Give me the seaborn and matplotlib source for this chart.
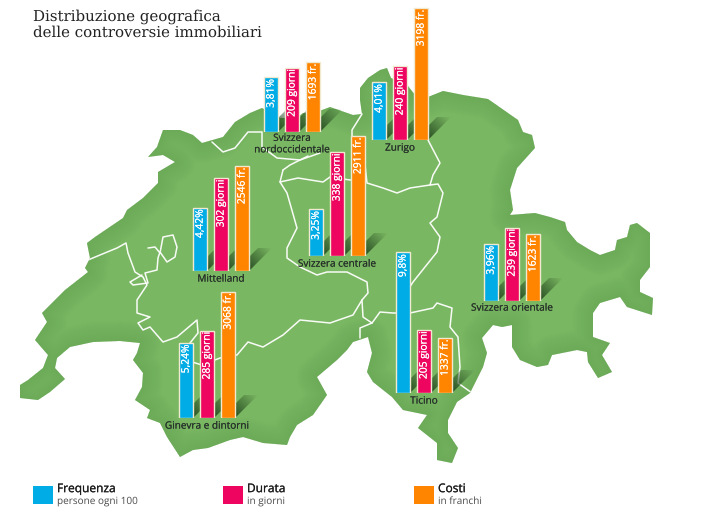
import numpy as np
import pandas as pd
import seaborn as sns
import matplotlib
matplotlib.use('Agg')
import matplotlib.pyplot as plt
import matplotlib.patheffects as pe
from matplotlib.patches import Polygon, Rectangle

regions = ['Svizzera\nnordoccidentale', 'Zurigo', 'Mittelland', 'Svizzera centrale',
           'Ginevra e dintorni', 'Ticino', 'Svizzera orientale']
frequenza = [3.81, 4.01, 4.42, 3.25, 5.24, 9.8, 3.96]
durata = [209, 240, 302, 338, 285, 205, 239]
costi = [1693, 3198, 2546, 2911, 3068, 1337, 1623]
metrics = ['Frequenza', 'Durata', 'Costi']
metric_notes = ['persone ogni 100', 'in giorni', 'in franchi']

# layout, all in reference pixels
W, H = 710, 519
bar_left = [264, 372, 193, 309, 179, 396, 484]
bar_base = [132, 140, 271, 256, 418, 393, 301]
name_y = [144, 148, 279, 264, 426, 401, 308]
scale = [14.35, 0.307, 0.0412]
colors = ['#00ace6', '#ee0560', '#ff8400']
legend_x = [33, 223, 414]

outline = [(20,385),(28,380),(43,368),(48,355),(35,340),(47,322),(42,313),(65,290),(88,272),(85,268),
           (90,258),(87,243),(95,237),(123,218),(127,210),(143,198),(158,183),(158,172),(175,162),(163,155),
           (148,157),(157,147),(163,130),(180,130),(193,135),(202,143),(223,137),(235,122),(250,113),(262,108),
           (280,118),(297,118),(303,113),(317,112),(330,107),(353,115),(362,114),(360,100),(360,88),(368,78),
           (380,70),(387,68),(391,78),(400,82),(408,86),(415,95),(428,97),(443,91),(463,95),(488,99),
           (518,120),(523,132),(532,135),(535,148),(517,168),(510,190),(513,210),(510,215),(535,213),(550,217),
           (565,222),(567,230),(577,242),(590,250),(600,255),(615,250),(617,240),(627,237),(630,225),(637,223),
           (650,233),(650,267),(640,280),(640,292),(653,298),(652,315),(627,307),(620,297),(600,303),(593,313),
           (593,337),(610,343),(602,355),(612,372),(598,378),(588,362),(587,352),(577,350),(552,355),(548,365),
           (537,367),(520,360),(512,347),(512,325),(502,327),(493,325),(482,338),(487,353),(483,367),(470,393),
           (457,402),(448,420),(448,433),(458,448),(452,463),(437,460),(437,443),(418,428),(427,415),(403,410),
           (392,397),(373,382),(367,372),(372,353),(368,337),(353,342),(347,350),(337,360),(317,377),(327,395),
           (313,415),(297,425),(290,437),(287,445),(263,443),(243,437),(230,440),(208,448),(193,450),(180,457),
           (167,437),(160,423),(147,418),(150,410),(135,400),(142,387),(143,373),(133,360),(137,353),(140,343),
           (120,341),(93,342),(70,347),(57,358),(55,368),(65,379),(50,392),(38,400),(20,398)]

borders = [
    [(88,260),(100,255),(117,248),(126,243),(128,253),(135,272),(143,277),(147,285),(137,300),(137,313),
     (150,317),(138,323),(143,330),(150,327),(163,342),(177,337),(197,320),(198,333),(190,343),(192,362),
     (202,365),(220,358),(237,355),(248,342),(263,347),(283,335),(300,320),(330,323),(353,315),(362,300),
     (363,317),(372,323),(380,312),(393,313),(410,313),(433,308),(437,303),(452,308),(450,327),(458,337),
     (460,367),(458,383),(472,393)],
    [(372,323),(360,328),(360,338)],
    [(283,170),(280,182),(287,193),(297,228),(287,248),(287,258),(300,267),(317,275),(327,272),(347,272),
     (367,282),(368,293),(362,300)],
    [(280,182),(298,178),(323,182),(330,177),(350,180),(365,178)],
    [(362,114),(352,130),(352,142),(365,165),(367,183),(383,188),(397,193),(410,188),(430,185),(438,184),
     (443,193),(437,217),(430,223),(440,237),(437,252),(413,282),(408,290),(403,313)],
    [(428,140),(440,163),(433,175),(430,185)],
    [(212,142),(223,152),(235,148),(248,132),(262,132),(262,147),(277,158),(300,160),(320,153)],
    [(283,170),(290,165),(308,156)],
    [(148,248),(155,247),(160,253),(163,237),(173,235),(177,247),(175,257),(167,262),(160,252),(158,258),
     (157,270),(145,273),(148,283),(133,285),(130,282),(142,275)],
]

sns.set_theme(style='white')
plt.rcParams['font.family'] = ['Open Sans', 'DejaVu Sans']
plt.rcParams['text.hinting'] = 'no_hinting'
plt.rcParams['text.hinting_factor'] = 1

fig = plt.figure(figsize=(W / 100, H / 100), dpi=100)
base = fig.add_axes([0, 0, 1, 1], zorder=0)
base.set_xlim(0, W)
base.set_ylim(H, 0)
base.axis('off')

# map with slightly darker rim
land = Polygon(outline, closed=True, facecolor='#7ab762', edgecolor='none')
base.add_patch(land)
ox, oy = zip(*(outline + outline[:1]))
for width in range(2, 32, 3):
    line, = base.plot(ox, oy, color='#3f7f35', alpha=0.02, lw=width, solid_joinstyle='round')
    line.set_clip_path(land)
for b in borders:
    bx, by = zip(*b)
    line, = base.plot(bx, by, color='white', lw=1.1, solid_joinstyle='round', alpha=0.95)
    line.set_clip_path(land)

# shadows behind the bars
for left, b in zip(bar_left, bar_base):
    for k in range(3):
        xr = left + 14 + k * 21
        xs = np.linspace(xr, xr + 24, 30)
        ys = np.linspace(b - 24, b, 30)
        gx, gy = np.meshgrid(xs, ys)
        t = ((gx - xr) + (b - gy)) / 46
        img = np.zeros(gx.shape + (4,))
        img[..., :3] = matplotlib.colors.to_rgb('#24481f')
        img[..., 3] = np.clip(0.95 * (1 - t), 0, 1)
        im = base.imshow(img, extent=(xr, xr + 24, b, b - 24), aspect='auto', zorder=2)
        im.set_clip_path(Polygon([(xr - 14, b), (xr, b), (xr + 23, b - 23), (xr + 9, b - 23)],
                                 transform=base.transData))
base.set_xlim(0, W)
base.set_ylim(H, 0)

# one small bar group per region, heights scaled per metric
for i, name in enumerate(regions):
    values = [frequenza[i], durata[i], costi[i]]
    df = pd.DataFrame({'metric': metrics, 'value': values})
    df['height'] = df['value'] * scale
    top = df['height'].max() + 2
    x0 = bar_left[i] + 7 - 10.5
    ax = fig.add_axes([x0 / W, 1 - bar_base[i] / H, 63 / W, top / H], zorder=1)
    sns.barplot(data=df, x='metric', y='height', hue='metric', palette=colors, order=metrics,
                saturation=1, width=0.68, edgecolor='#f1ead0', linewidth=1.0, legend=False, ax=ax)
    ax.set_xlim(-0.5, 2.5)
    ax.set_ylim(0, top)
    ax.axis('off')
    ax.patch.set_alpha(0)
    labels = [f'{values[0]:g}'.replace('.', ',') + '%', f'{values[1]} giorni', f'{values[2]} fr.']
    for k, lab in enumerate(labels):
        ax.text(k, df['height'][k] - 2.5, lab, rotation=90, ha='center', va='top', color='white',
                fontsize=7.4, path_effects=[pe.withStroke(linewidth=0.12, foreground='white')])
    base.text(bar_left[i] + 28, name_y[i], name, ha='center', va='center', color='#27322a',
              fontsize=7.2, linespacing=1.2, zorder=5,
              path_effects=[pe.withStroke(linewidth=0.08, foreground='#27322a')])

# title
base.text(33, 9, 'Distribuzione geografica\ndelle controversie immobiliari', family='DejaVu Serif',
          fontsize=11.0, color='#222222', va='top', ha='left', linespacing=1.15)

# legend
for x, c, m, note in zip(legend_x, colors, metrics, metric_notes):
    base.add_patch(Rectangle((x, 486), 20, 18, facecolor=c, edgecolor='none'))
    base.text(x + 24, 489, m, fontsize=8.6, color='#1c1c1c', va='center', ha='left',
              path_effects=[pe.withStroke(linewidth=0.15, foreground='#1c1c1c')])
    base.text(x + 24, 501, note, fontsize=7.2, color='#4a4a4a', va='center', ha='left')

plt.savefig('out.png', dpi=100)
